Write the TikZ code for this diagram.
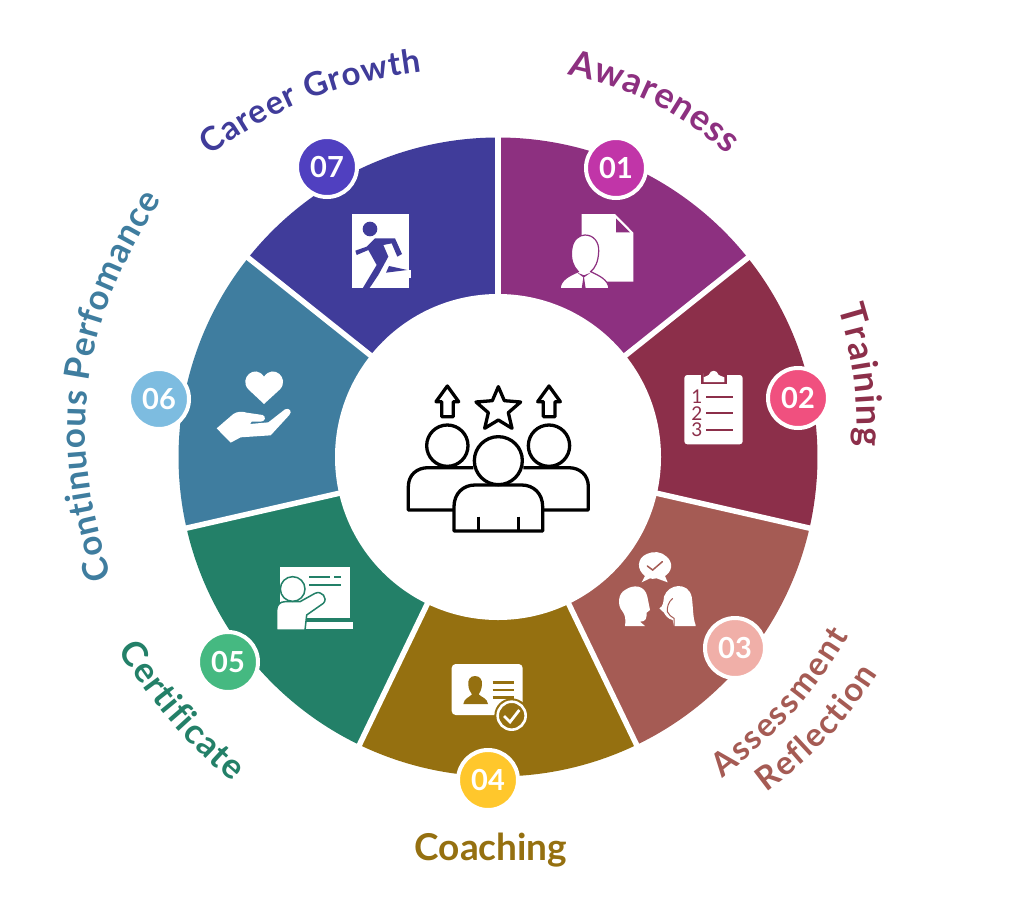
\documentclass[tikz,border=0pt]{standalone}
\usepackage{fontspec}
\setmainfont{Lato}
\newfontface\labfont{Lato Bold}
\usetikzlibrary{decorations.text}
\definecolor{w1}{HTML}{8D3080}\definecolor{w2}{HTML}{8C2F4A}\definecolor{w3}{HTML}{A55B54}
\definecolor{w4}{HTML}{957010}\definecolor{w5}{HTML}{238068}\definecolor{w6}{HTML}{3F7D9F}\definecolor{w7}{HTML}{403C9A}
\definecolor{b1}{HTML}{C135A8}\definecolor{b2}{HTML}{F0507F}\definecolor{b3}{HTML}{F0AFA8}
\definecolor{b4}{HTML}{FFC72C}\definecolor{b5}{HTML}{45B981}\definecolor{b6}{HTML}{7DBCE0}\definecolor{b7}{HTML}{5040C0}
\newcommand{\lf}[2]{\labfont\fontsize{#2}{#2}\selectfont\color{#1}}
\tikzset{
 badge/.style={circle,draw=white,line width=4pt,minimum size=60pt,inner sep=0pt,text=white,font=\labfont\fontsize{29}{29}\selectfont},
 curved/.style={decorate,decoration={text along path,text align={fit to path},raise=0pt,text={#1}}},
 outl/.style={line width=3.3pt,draw=black,line join=round},
 zoomed/.style={shift={#1},scale=1/3},
}
\begin{document}
\begin{tikzpicture}[x=1pt,y=-1pt]
\useasboundingbox[fill=white] (0,0) rectangle (1024,899);
% ring
\begin{scope}[shift={(498,457)}]
\foreach \c/\a/\b in {w1/-90/-38.57,w2/-38.57/12.86,w3/12.86/64.29,w4/64.29/115.71,w5/115.71/167.14,w6/167.14/218.57,w7/218.57/270}{
  \fill[\c] (0,0) -- (\a:319.5) arc[start angle=\a,end angle=\b,radius=319.5] -- cycle;
}
\foreach \a in {-90,-38.57,12.86,64.29,115.71,167.14,218.57}{
  \draw[white,line width=5.5pt] (0,0) -- (\a:325);
}
\fill[white] (0,0) circle[radius=163];
\end{scope}
% centre icon
\begin{scope}[zoomed={(390,370)}]
\draw[outl] (190,420) -- (55,420) -- (55,350) .. controls (55,315) and (80,293) .. (115,293) -- (250,293);
\draw[outl] (460,420) -- (595,420) -- (595,350) .. controls (595,315) and (570,293) .. (535,293) -- (400,293);
\draw[outl,fill=white] (172,227) circle[radius=62];
\draw[outl,fill=white] (477,227) circle[radius=62];
\draw[outl,fill=white] (192,483) -- (458,483) -- (458,410) .. controls (458,370) and (430,345) .. (395,345) -- (255,345) .. controls (220,345) and (192,370) .. (192,410) -- cycle;
\draw[outl,fill=white] (325,272) circle[radius=72];
\draw[outl] (265,440) -- (265,483) (385,440) -- (385,483);
\draw[outl] (172,48) -- (206,95) -- (190,95) -- (190,140) -- (155,140) -- (155,95) -- (138,95) -- cycle;
\draw[outl] (477,48) -- (511,95) -- (495,95) -- (495,140) -- (460,140) -- (460,95) -- (443,95) -- cycle;
\draw[outl] (325,50) -- (343,92) -- (392,96) -- (355,128) -- (366,175) -- (325,150) -- (284,175) -- (295,128) -- (258,96) -- (307,92) -- cycle;
\end{scope}
% icon 01
\begin{scope}[zoomed={(540,200)}]
\fill[white] (125,42) -- (225,42) -- (280,98) -- (280,245) -- (125,245) -- cycle;
\fill[w1] (228,55) -- (270,97) -- (228,97) -- cycle;
\draw[w1,line width=1.2pt,fill=white] (60,266) .. controls (62,240) and (85,228) .. (115,215) .. controls (100,200) and (92,180) .. (95,150) .. controls (98,118) and (118,105) .. (135,105) .. controls (160,105) and (178,125) .. (176,155) .. controls (175,185) and (165,205) .. (152,215) .. controls (180,228) and (205,240) .. (207,266) -- cycle;
\fill[w1] (112,218) -- (130,232) -- (125,266) -- (137,266) -- (132,232) -- (152,218) -- (132,226) -- cycle;
\end{scope}
% icon 02
\begin{scope}[zoomed={(540,200)}]
\fill[white,rounded corners=3pt] (433,525) rectangle (608,733);
\fill[w2] (484,520) rectangle (560,553);
\fill[white] (491,520) -- (491,546) -- (553,546) -- (553,532) -- (536,525) .. controls (530,508) and (512,508) .. (506,525) -- (491,532) -- cycle;
\draw[w2,line width=2pt] (498,590) -- (580,590) (498,640) -- (580,640) (498,690) -- (580,690);
\foreach \y/\t in {590/1,640/2,690/3}{\node[text=w2,font=\fontsize{19}{19}\selectfont,inner sep=0pt] (num\t) at (471,\y) {\t};}
\end{scope}
% icon 03
\begin{scope}[zoomed={(600,540)}]
\fill[white] (125,127) -- (135,108) .. controls (110,90) and (110,55) .. (140,42) .. controls (160,32) and (185,35) .. (200,50) .. controls (222,70) and (215,95) .. (195,108) -- (203,127) -- (170,115) .. controls (160,117) and (155,117) .. (150,115) -- cycle;
\draw[w3,line width=1.5pt,line cap=round] (142,78) -- (158,90) -- (187,65);
\fill[white] (75,258) .. controls (78,235) and (75,225) .. (68,215) .. controls (50,195) and (55,160) .. (75,150) .. controls (100,132) and (135,135) .. (142,170) -- (150,210) -- (140,218) .. controls (140,235) and (138,245) .. (120,245) -- (135,258) -- cycle;
\fill[white] (192,170) .. controls (205,130) and (265,125) .. (275,170) .. controls (280,200) and (278,235) .. (287,255) -- (287,258) -- (222,258) -- (218,240) .. controls (205,238) and (195,225) .. (192,218) -- (178,205) .. controls (190,200) and (190,185) .. (192,170) -- cycle;
\draw[w3,line width=1pt] (218,175) .. controls (205,185) and (200,205) .. (202,215) .. controls (205,225) and (215,230) .. (222,235) -- (222,262);
\end{scope}
% icon 04
\begin{scope}[zoomed={(430,650)}]
\fill[white,rounded corners=4pt] (65,42) rectangle (278,195);
\fill[w4] (135,78) .. controls (150,78) and (158,90) .. (156,105) .. controls (154,120) and (150,128) .. (146,133) .. controls (155,142) and (172,145) .. (174,162) -- (100,162) .. controls (102,145) and (118,142) .. (126,133) .. controls (120,125) and (116,118) .. (115,105) .. controls (113,90) and (120,78) .. (135,78) -- cycle;
\draw[w4,line width=2.4pt] (188,97) -- (252,97) (188,120) -- (252,120) (188,143) -- (252,143);
\fill[w4] (245,197) circle[radius=52];
\draw[white,line width=2.6pt] (245,197) circle[radius=42];
\draw[white,line width=2.8pt] (222,198) -- (240,216) -- (268,180);
\end{scope}
% icon 05
\begin{scope}[zoomed={(260,550)}]
\fill[white] (60,50) rectangle (270,205);
\fill[white] (135,217) rectangle (278,238);
\draw[w5,line width=1.8pt] (148,82) -- (210,82) (222,82) -- (243,82) (148,104) -- (243,104);
\draw[w5,line width=1.5pt,fill=white,line join=round] (50,240) -- (50,180) .. controls (50,165) and (60,155) .. (75,155) -- (120,155) -- (165,130) .. controls (185,120) and (205,145) .. (190,160) -- (140,195) -- (135,240) -- cycle;
\draw[w5,line width=1.5pt,fill=white] (98,117) circle[radius=37];
\end{scope}
% icon 06
\begin{scope}[zoomed={(200,200)}]
\fill[white] (192,612) -- (145,568) .. controls (115,535) and (165,490) .. (192,530) .. controls (220,490) and (270,535) .. (240,568) -- cycle;
\fill[white,line join=round] (50,685) -- (100,642) .. controls (110,635) and (125,633) .. (140,638) -- (188,645) .. controls (200,650) and (195,665) .. (182,665) -- (155,665) -- (150,672) -- (205,667) -- (255,628) .. controls (268,622) and (278,635) .. (268,645) -- (212,706) -- (122,712) -- (92,728) -- cycle;
\end{scope}
% icon 07
\begin{scope}[zoomed={(200,200)}]
\fill[white] (457,42) rectangle (627,265);
\fill[white] (600,210) rectangle (633,233);
\fill[w7] (510,87) circle[radius=22];
\fill[w7,line join=round] (488,265) -- (530,195) -- (505,150) -- (470,165) -- (466,152) -- (500,140) -- (525,115) -- (585,115) -- (606,162) -- (592,170) -- (575,130) -- (550,135) -- (565,170) -- (535,225) -- (508,265) -- cycle;
\fill[w7] (567,198) -- (622,210) -- (558,218) -- cycle;
\end{scope}
% badges
\node[badge,fill=b1] (n01) at (616,168) {01};
\node[badge,fill=b2] (n02) at (798,398) {02};
\node[badge,fill=b3] (n03) at (735,648) {03};
\node[badge,fill=b4] (n04) at (488,780) {04};
\node[badge,fill=b5] (n05) at (228,662) {05};
\node[badge,fill=b6] (n06) at (159,399) {06};
\node[badge,fill=b7] (n07) at (327,167) {07};
% labels
\coordinate (a1) at (567,75);\coordinate (a2) at (728,155);
\path[curved={|\lf{w1}{36}|Awareness}] (a1) to[bend left=14] (a2);
\coordinate (t1) at (838,308);\coordinate (t2) at (857,446);
\path[curved={|\lf{w2}{36}|Training}] (t1) to[bend left=9] (t2);
\coordinate (s1) at (722,778);\coordinate (s2) at (849,636);
\path[curved={|\lf{w3}{33}|Assessment}] (s1) to[bend right=10] (s2);
\coordinate (r1) at (766,792);\coordinate (r2) at (878,674);
\path[curved={|\lf{w3}{33}|Reflection}] (r1) to[bend right=10] (r2);
\node[text=w4,font=\labfont\fontsize{37}{37}\selectfont,inner sep=0pt,anchor=base] (coach) at (491,860) {Coaching};
\coordinate (e1) at (118,650);\coordinate (e2) at (232,782);
\path[curved={|\lf{w5}{35}|Certificate}] (e1) to[bend right=8] (e2);
\coordinate (c1) at (112,577);\coordinate (c2) at (162,200);
\path[curved={|\lf{w6}{35}|Continuous Perfomance}] (c1) to[bend left=26] (c2);
\coordinate (g1) at (210,156);\coordinate (g2) at (422,72);
\path[curved={|\lf{w7}{33}|Career Growth}] (g1) to[bend left=14] (g2);
\end{tikzpicture}
\end{document}
